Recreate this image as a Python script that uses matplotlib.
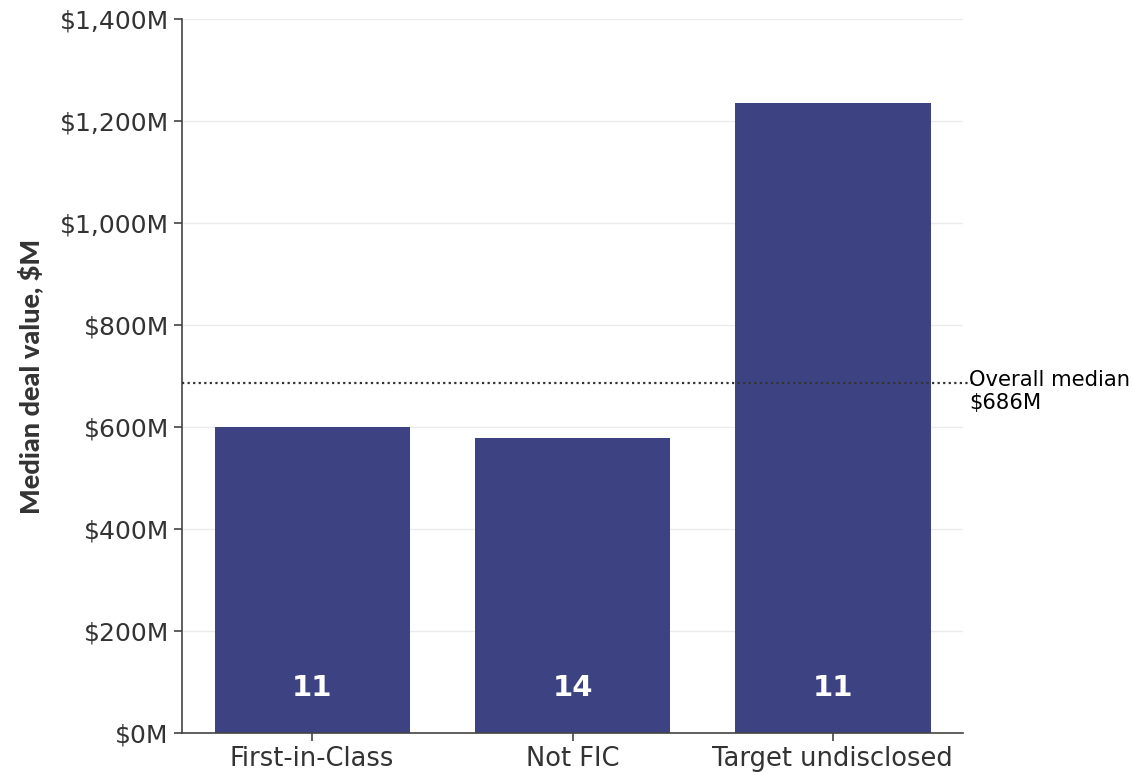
import matplotlib.pyplot as plt

# ----------------------------
# Data
# ----------------------------

categories = ["First-in-Class", "Not FIC", "Target undisclosed"]
median_values = [600, 578, 1235]
deal_counts = [11, 14, 11]
overall_median = 686
y_ticks = [0, 200, 400, 600, 800, 1000, 1200, 1400]

bar_color = "#3d4382"
text_color = "#333333"
font = "DejaVu Sans"

# ----------------------------
# Plot
# ----------------------------

fig = plt.figure(figsize=(11.33, 7.72), dpi=100)
ax = fig.add_axes([0.1606, 0.0505, 0.6894, 0.9245])

x = range(len(categories))
ax.bar(x, median_values, width=0.75, color=bar_color, zorder=2)

for xi, n in zip(x, deal_counts):
    ax.text(xi, 88, str(n), ha="center", va="center", color="white",
            fontsize=21, fontweight="bold", family=font, zorder=3)

# overall median reference line
ax.axhline(overall_median, xmin=0, xmax=1.015, color="#333333",
           linestyle=(0, (1, 1.5)), linewidth=1.6, clip_on=False, zorder=3)
ax.text(1.008, overall_median - 16, "Overall median\n$" + str(overall_median) + "M",
        transform=ax.get_yaxis_transform(), ha="left", va="center",
        fontsize=15.2, family=font, color="black", linespacing=1.2)

ax.set_xlim(-0.5, 2.5)
ax.set_ylim(0, 1400)
ax.set_yticks(y_ticks)
ax.set_yticklabels(["$" + format(v, ",") + "M" for v in y_ticks])
ax.set_xticks(list(x))
ax.set_xticklabels(categories)

ax.grid(axis="y", color="#ebebeb", linewidth=1, zorder=0)
ax.set_axisbelow(True)

for side in ["top", "right"]:
    ax.spines[side].set_visible(False)
for side in ["left", "bottom"]:
    ax.spines[side].set_color("#444444")
    ax.spines[side].set_linewidth(1.2)

ax.tick_params(axis="both", colors="#444444", labelcolor=text_color,
               labelsize=18, length=6, width=1.2)
ax.tick_params(axis="x", labelsize=18.5)
for lbl in ax.get_xticklabels() + ax.get_yticklabels():
    lbl.set_family(font)

ax.set_ylabel("Median deal value, $M", fontsize=19.5, fontweight="black",
              family="Lato", color=text_color, labelpad=12)

fig.savefig("out.png", dpi=100)
